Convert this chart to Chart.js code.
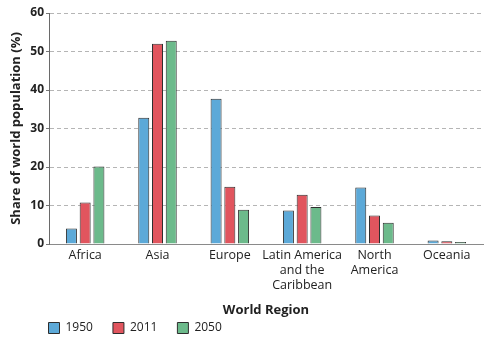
<!DOCTYPE html>
<html>
<head>
<meta charset="utf-8">
<script src="https://cdn.jsdelivr.net/npm/chart.js@4/dist/chart.umd.min.js"></script>
<style>
  html, body { margin: 0; padding: 0; background: #fff; }
  #wrap { width: 484px; height: 342px; position: relative; }
</style>
</head>
<body>
<div id="wrap"><canvas id="c" width="484" height="342"></canvas></div>
<script>
const regions = ['Africa', 'Asia', 'Europe', ['Latin America', 'and the', 'Caribbean'], ['North', 'America'], 'Oceania'];
const share1950 = [4.0, 32.8, 37.7, 8.7, 14.7, 0.9];
const share2011 = [10.8, 52.0, 14.9, 12.8, 7.4, 0.7];
const share2050 = [20.1, 52.8, 8.9, 9.6, 5.5, 0.5];
const seriesNames = ['1950', '2011', '2050'];
const yTicks = [0, 10, 20, 30, 40, 50, 60];

const FONT = "'Open Sans', 'DejaVu Sans', sans-serif";
const colors = ['#5ca9d8', '#e1555e', '#6cba8b'];

const layoutTweak = {
  id: 'layoutTweak',
  afterLayout(chart) {
    const lg = chart.legend;
    const dx = 28.5 - lg.left;
    const dy = 302 - lg.top;
    lg.left += dx; lg.right += dx;
    lg.top += dy; lg.bottom += dy;
    chart.scales.x.bottom = 322;
  }
};

new Chart(document.getElementById('c'), {
  type: 'bar',
  data: {
    labels: regions,
    datasets: [share1950, share2011, share2050].map((d, i) => ({
      label: seriesNames[i],
      data: d,
      backgroundColor: colors[i],
      borderColor: '#2e2e2e',
      borderWidth: 1,
      categoryPercentage: 0.57,
      barPercentage: 0.8
    }))
  },
  plugins: [layoutTweak],
  options: {
    responsive: false,
    animation: false,
    devicePixelRatio: 1,
    layout: { padding: { top: 13, right: 1, left: 0, bottom: 0 } },
    plugins: {
      tooltip: { enabled: false },
      legend: {
        position: 'bottom',
        align: 'start',
        labels: {
          boxWidth: 11,
          boxHeight: 11,
          padding: 20,
          color: '#222',
          font: { family: FONT, size: 12 }
        }
      }
    },
    scales: {
      x: {
        grid: { display: false, drawTicks: false },
        border: { display: true, color: '#8a8a8a', width: 1 },
        ticks: {
          color: '#222',
          padding: 4,
          maxRotation: 0,
          autoSkip: false,
          font: { family: FONT, size: 12.5, lineHeight: 1.2 }
        },
        title: {
          display: true,
          text: 'World Region',
          color: '#222',
          padding: { top: 4, bottom: 4 },
          font: { family: FONT, size: 13, weight: 'bold' }
        },
        afterFit(s) { s.height = 56; }
      },
      y: {
        min: 0,
        max: 60,
        afterBuildTicks(s) { s.ticks = yTicks.map(v => ({ value: v })); },
        grid: {
          color: (ctx) => ctx.tick && ctx.tick.value === 0 ? 'rgba(0,0,0,0)' : '#b5b5b5',
          tickColor: '#777',
          tickLength: 3,
          drawTicks: true
        },
        border: { display: true, color: '#6a6a6a', width: 1, dash: [4, 3] },
        ticks: {
          color: '#222',
          padding: 2,
          font: { family: FONT, size: 12, weight: 'bold' }
        },
        title: {
          display: true,
          text: 'Share of world population (%)',
          color: '#222',
          padding: { top: 8, bottom: 0 },
          font: { family: FONT, size: 13, weight: 'bold' }
        },
        afterFit(s) { s.width = 49; }
      }
    }
  }
});
</script>
</body>
</html>
